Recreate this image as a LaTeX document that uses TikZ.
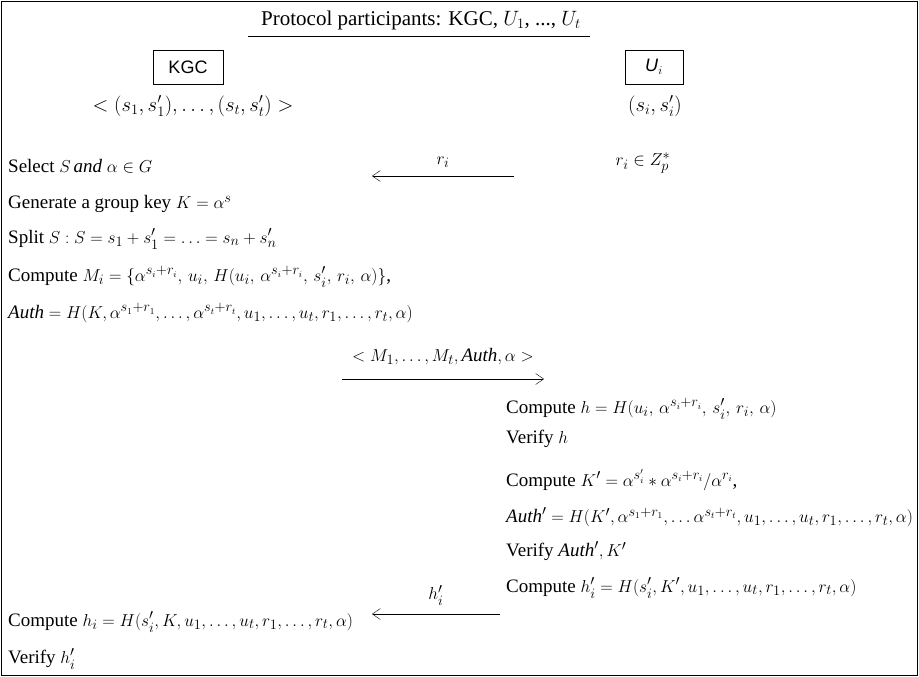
\documentclass[tikz,border=0pt]{standalone}
\usepackage{amsmath,amssymb}
\usepackage{fontspec}
\setmainfont{Liberation Serif}
\setsansfont{Liberation Sans}
\usepackage{tikz}
\usetikzlibrary{arrows.meta,positioning,calc}

\begin{document}
\begin{tikzpicture}[
    x=1pt, y=-1pt,
    every node/.style={font=\fontsize{19}{22}\selectfont, inner sep=0pt},
    entity/.style={rectangle, draw, thick, font=\sffamily\fontsize{18}{20}\selectfont, minimum width=70pt, minimum height=34pt},
    step line/.style={anchor=west},
    msg/.style={->, >={Straight Barb[length=8pt,width=11pt]}, thin}
]

\useasboundingbox (0,0) rectangle (919,677);
\draw [thick] (1,1) rectangle (917,675);

% header
\node [font=\fontsize{21}{24}\selectfont] (title) at (421,20) {Protocol participants: KGC, $U_1$, ..., $U_t$};
\draw [thick] (248,36) -- (590,36);

% participants
\node [entity] (kgc) at (188,67) {KGC};
\node [entity, minimum width=58pt] (user) at (654,67) {\textit{U}$_i$};
\node [font=\fontsize{20}{22}\selectfont] (kgcshares) at (193,106) {$<(s_1,s_1'),\ldots,(s_t,s_t')>$};
\node [font=\fontsize{20}{22}\selectfont] (usershare) at (655,106) {$(s_i,s_i')$};

% round 1
\node [step line] (select) at (8,166) {Select $S\,\mathit{and}\ \alpha\in G$};
\node (nonce) at (643,163) {$r_i\in Z_p^{*}$};
\coordinate (r1from) at (514,176);
\coordinate (r1to) at (372,176);
\draw [msg] (r1from) -- node[above=8pt] {$r_i$} (r1to);

\node [step line] (genkey) at (8,204) {Generate a group key $K=\alpha^{s}$};
\node [step line] (split) at (8,239) {Split $S:S=s_1+s_1'=\ldots=s_n+s_n'$};
\node [step line] (compm) at (8,277) {Compute $M_i=\{\alpha^{s_i+r_i},\,u_i,\,H(u_i,\,\alpha^{s_i+r_i},\,s_i',\,r_i,\,\alpha)\}$,};
\node [step line] (auth) at (8,313) {$\mathit{Auth}=H(K,\alpha^{s_1+r_1},\ldots,\alpha^{s_t+r_t},u_1,\ldots,u_t,r_1,\ldots,r_t,\alpha)$};

% round 2
\coordinate (r2from) at (342,379);
\coordinate (r2to) at (544,379);
\draw [msg] (r2from) -- node[above=14pt] {$<M_1,\ldots,M_t,\mathit{Auth},\alpha>$} (r2to);

\node [step line] (comph) at (506,409) {Compute $h=H(u_i,\,\alpha^{s_i+r_i},\,s_i',\,r_i,\,\alpha)$};
\node [step line] (verh) at (506,439) {Verify $h$};
\node [step line] (compk) at (506,480) {Compute $K'=\alpha^{s_i'}*\alpha^{s_i+r_i}/\alpha^{r_i}$,};
\node [step line] (authp) at (506,517) {$\mathit{Auth}'=H(K',\alpha^{s_1+r_1},\ldots\alpha^{s_t+r_t},u_1,\ldots,u_t,r_1,\ldots,r_t,\alpha)$};
\node [step line] (verauth) at (506,551) {Verify $\mathit{Auth}',K'$};
\node [step line] (comphi) at (506,588) {Compute $h_i'=H(s_i',K',u_1,\ldots,u_t,r_1,\ldots,r_t,\alpha)$};

% round 3
\coordinate (r3from) at (500,614);
\coordinate (r3to) at (372,614);
\draw [msg] (r3from) -- node[above=8pt] {$h_i'$} (r3to);

\node [step line] (kgch) at (8,622) {Compute $h_i=H(s_i',K,u_1,\ldots,u_t,r_1,\ldots,r_t,\alpha)$};
\node [step line] (kgcver) at (8,659) {Verify $h_i'$};

\end{tikzpicture}
\end{document}
